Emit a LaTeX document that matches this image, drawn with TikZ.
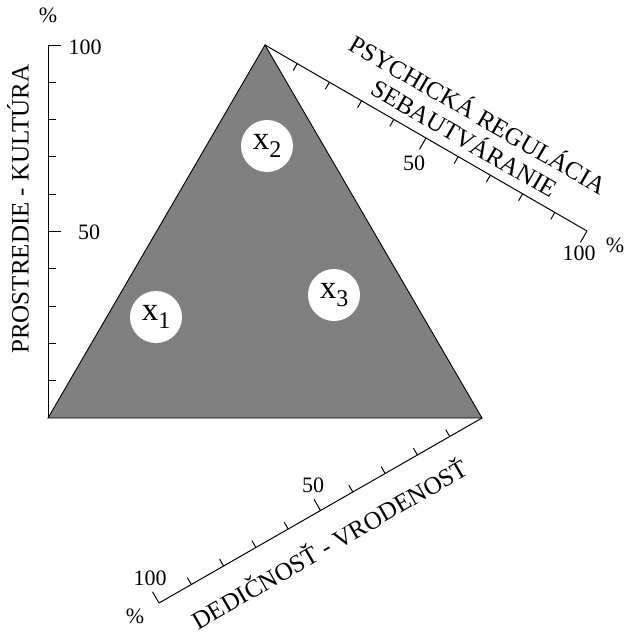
\documentclass[tikz,border=0pt]{standalone}
\usepackage{fontspec}
\setmainfont{Liberation Serif}
\usetikzlibrary{calc}
\definecolor{trifill}{RGB}{128,128,128}
\begin{document}
\begin{tikzpicture}[x=1pt,y=-1pt,
  ax/.style={line width=1pt, line cap=butt},
  num/.style={font=\fontsize{22}{24}\selectfont, inner sep=0pt},
  pct/.style={font=\fontsize{22}{22}\selectfont, inner sep=0pt},
  lab/.style={font=\fontsize{25}{27.5}\selectfont, inner sep=0pt, align=center},
  pt/.style={circle, fill=white, minimum size=52pt, inner sep=0pt, font=\fontsize{33}{33}\selectfont}]
\useasboundingbox (0,0) rectangle (626,633);
\coordinate (BL) at (48,418);
\coordinate (BR) at (482,418);
\coordinate (T) at (265,45);
\coordinate (L100) at (48,45);
\coordinate (R100) at (587,231);
\coordinate (B100) at (159,603);
% triangle
\draw[fill=trifill, line width=0.9pt, line join=miter] (BL) -- (BR) -- (T) -- cycle;
% axes
\draw[ax] (BL) -- (L100);
\draw[ax] (T) -- (R100);
\draw[ax] (BR) -- (B100);
\foreach \i in {1,...,10}{
  \pgfmathsetmacro\len{ifthenelse(mod(\i,5)==0,13,8)}
  \draw[ax] ($(BL)!\i/10!(L100)$) -- ++(\len,0);
  \draw[ax] ($(T)!\i/10!(R100)$) -- ++({-0.5*\len},{0.866*\len});
  \draw[ax] ($(BR)!\i/10!(B100)$) -- ++({-0.5*\len},{-0.866*\len});
}
% numbers
\node[num] (l100) at (85,47) {100};
\node[num] (l50) at (89,232) {50};
\node[pct] (lpct) at (48,15) {\%};
\node[num] (r50) at (414,163) {50};
\node[num] (r100) at (579,253) {100};
\node[pct] (rpct) at (615,245) {\%};
\node[num] (b50) at (313,485) {50};
\node[num] (b100) at (150,578) {100};
\node[pct] (bpct) at (135,616) {\%};
% axis labels
\node[lab, rotate=90] (llab) at (18,209) {PROSTREDIE - KULTÚRA};
\node[lab, rotate=-30] (rlab) at (472,125) {PSYCHICKÁ REGULÁCIA\\SEBAUTVÁRANIE};
\node[lab, rotate=30] (blab) at (329,543) {DEDIČNOSŤ - VRODENOSŤ};
% points
\node[pt] (x1) at (156,317) {x\raisebox{-8pt}{\fontsize{24}{24}\selectfont 1}};
\node[pt] (x2) at (267,146) {x\raisebox{-8pt}{\fontsize{24}{24}\selectfont 2}};
\node[pt] (x3) at (334,295) {x\raisebox{-8pt}{\fontsize{24}{24}\selectfont 3}};
\end{tikzpicture}
\end{document}
